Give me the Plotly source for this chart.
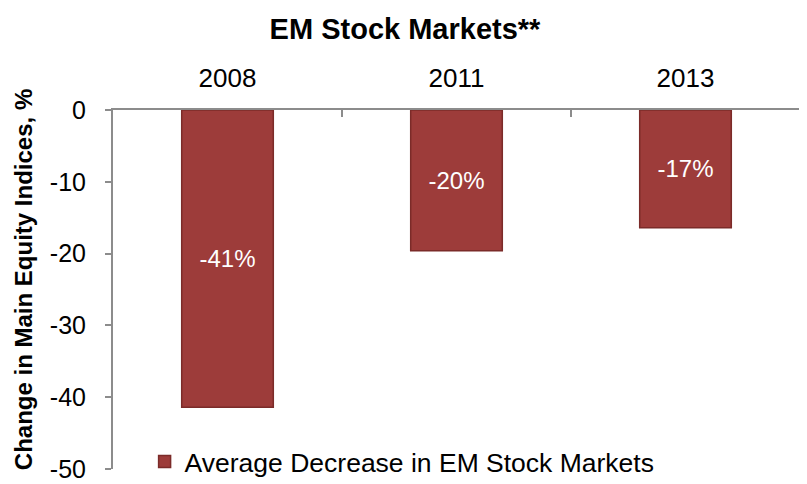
import plotly.graph_objects as go

categories = ["2008", "2011", "2013"]
values = [-41.4, -19.6, -16.4]
labels = ["-41%", "-20%", "-17%"]
series_name = "Average Decrease in EM Stock Markets"
y_ticks = [0, -10, -20, -30, -40, -50]
y_title = "Change in Main Equity Indices, %"

FONT = "Liberation Sans, Arial, sans-serif"

# page body has an 8px default margin, so the figure is sized to fit the window
W, H = 799, 476

fig = go.Figure()
fig.add_trace(go.Bar(
    x=categories, y=values, name=series_name,
    text=labels, textposition="inside", insidetextanchor="middle",
    textfont=dict(color="white", size=24, family=FONT),
    marker=dict(color="#9d3c3a", line=dict(color="#7b2b29", width=1.5)),
    width=0.4, showlegend=True,
))

fig.update_layout(
    width=W, height=H,
    margin=dict(l=105, r=7, t=102, b=15, autoexpand=False),
    paper_bgcolor="white", plot_bgcolor="white",
    font=dict(family=FONT, color="black", size=26),
    title=dict(text="<b>EM Stock Markets**</b>", x=(405 - 8) / W, xref="container", xanchor="center",
               y=1 - 21 / H, yanchor="middle", font=dict(size=29, family=FONT)),
    showlegend=True,
    legend=dict(x=0.046, y=0.02, xanchor="left", yanchor="middle",
                bgcolor="rgba(0,0,0,0)", font=dict(size=26.5, family=FONT),
                itemwidth=30),
    annotations=[dict(
        text="<b>" + y_title + "</b>", textangle=-90, showarrow=False,
        xref="paper", yref="paper", x=-0.131, y=0.526,
        xanchor="center", yanchor="middle",
        font=dict(size=24, family=FONT, color="black"),
    )],
)
fig.update_xaxes(
    side="top", type="category", showline=True, linecolor="#8c8c8c", linewidth=2,
    ticks="inside", tickson="boundaries", ticklen=7, tickcolor="#8c8c8c", tickwidth=2,
    showgrid=False, tickfont=dict(size=26, family=FONT), automargin=False,
    ticklabelstandoff=11,
)
fig.update_yaxes(
    range=[-50, 0], tickvals=y_ticks, ticktext=[str(v) for v in y_ticks],
    showline=True, linecolor="#8c8c8c", linewidth=2,
    ticks="outside", ticklen=6, tickcolor="#8c8c8c", tickwidth=2,
    showgrid=False, zeroline=False, tickfont=dict(size=25, family=FONT),
    automargin=False, ticklabelstandoff=14,
)

fig.write_html("out.html")
